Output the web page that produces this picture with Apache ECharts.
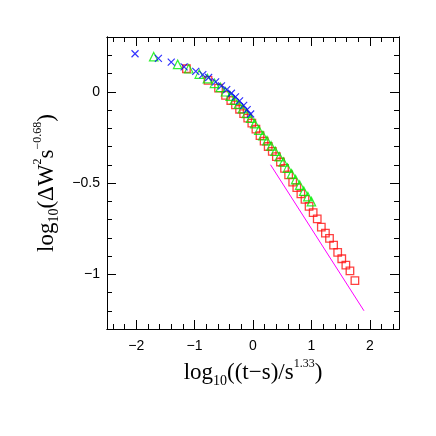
<!DOCTYPE html>
<html>
<head>
<meta charset="utf-8">
<script src="https://cdn.jsdelivr.net/npm/echarts@6/dist/echarts.min.js"></script>
<style>
html,body{margin:0;padding:0;background:#fff;}
#c{width:436px;height:436px;}
</style>
</head>
<body>
<div id="c"></div>
<script>
// Blue crosses
const blueX = [-2.02, -1.62, -1.40, -1.18, -0.98, -0.86, -0.76, -0.64, -0.54, -0.45, -0.37, -0.30, -0.23, -0.16, -0.10, -0.04];
const blueY = [0.208, 0.183, 0.162, 0.136, 0.112, 0.094, 0.078, 0.054, 0.032, 0.012, -0.008, -0.028, -0.050, -0.075, -0.098, -0.122];
// Green triangles
const greenX = [-1.70, -1.29, -1.10, -0.92, -0.78, -0.66, -0.56, -0.47, -0.39, -0.32, -0.25, -0.18, -0.11, -0.04, 0.03, 0.10, 0.17, 0.24, 0.31, 0.38, 0.45, 0.52, 0.59, 0.66, 0.73, 0.80, 0.87, 0.94, 1.00];
const greenY = [0.192, 0.150, 0.126, 0.097, 0.072, 0.046, 0.024, 0.000, -0.024, -0.046, -0.068, -0.092, -0.118, -0.145, -0.175, -0.210, -0.240, -0.268, -0.297, -0.326, -0.356, -0.385, -0.418, -0.450, -0.482, -0.512, -0.545, -0.575, -0.602];
// Red squares
const redX = [-1.14, -0.77, -0.59, -0.47, -0.38, -0.30, -0.23, -0.16, -0.09, -0.02, 0.05, 0.12, 0.19, 0.26, 0.33, 0.40, 0.47, 0.54, 0.61, 0.68, 0.75, 0.82, 0.89, 0.96, 1.03, 1.10, 1.17, 1.24, 1.31, 1.38, 1.45, 1.52, 1.59, 1.66, 1.745];
const redY = [0.126, 0.062, 0.020, -0.020, -0.048, -0.072, -0.096, -0.120, -0.145, -0.172, -0.205, -0.240, -0.270, -0.300, -0.327, -0.355, -0.385, -0.420, -0.455, -0.495, -0.525, -0.560, -0.590, -0.628, -0.662, -0.697, -0.742, -0.775, -0.803, -0.840, -0.880, -0.915, -0.950, -0.982, -1.035];
// Magenta reference line (slope -0.5)
const lineX = [0.3, 1.9];
const lineY = [-0.4, -1.2];

// Tick values
const xMajor = [-2, -1, 0, 1, 2];
const xMinor = [-2.4, -2.2, -1.8, -1.6, -1.4, -1.2, -0.8, -0.6, -0.4, -0.2, 0.2, 0.4, 0.6, 0.8, 1.2, 1.4, 1.6, 1.8, 2.2, 2.4];
const yMajor = [-1, -0.5, 0];
const yMinor = [-1.2, -1.1, -0.9, -0.8, -0.7, -0.6, -0.4, -0.3, -0.2, -0.1, 0.1, 0.2];

function zip(a, b) { return a.map((v, i) => [v, b[i]]); }
function fmt(v) { return String(v).replace('-', '\u2212'); }

const XMIN = -2.5, XMAX = 2.5, YMIN = -1.3, YMAX = 0.3;
const black = '#000';

const richName = {
  n: { fontFamily: 'Liberation Serif', fontSize: 23, color: black, lineHeight: 30, verticalAlign: 'middle' },
  sb: { fontFamily: 'Liberation Serif', fontSize: 14, color: black, lineHeight: 30, verticalAlign: 'bottom' },
  sp: { fontFamily: 'Liberation Serif', fontSize: 12, color: black, lineHeight: 30, verticalAlign: 'top' }
};

function axisDef(dim, pos, ticks, len, main) {
  const isX = dim === 'x';
  const ax = {
    type: 'value', position: pos,
    min: isX ? XMIN : YMIN, max: isX ? XMAX : YMAX,
    axisLine: { show: true, onZero: false, lineStyle: { color: black, width: 1 } },
    axisTick: { show: true, inside: true, length: len, customValues: ticks, lineStyle: { color: black, width: 1 } },
    axisLabel: {
      show: main, margin: isX ? 10 : 7, color: black, fontSize: 14, fontFamily: 'Liberation Sans',
      customValues: ticks, formatter: fmt
    },
    splitLine: { show: false },
    nameLocation: 'middle',
    nameTextStyle: { rich: richName }
  };
  if (main && isX) {
    ax.name = '{n|log}{sb|10}{n|((t\u2212s)/s}{sp|1.33}{n|)}';
    ax.nameGap = 20;
  }
  if (main && !isX) {
    ax.name = '{n|log}{sb|10}{n|(\u0394W}{sp|2}{n|s}{sp|\u22120.68}{n|)}';
    ax.nameGap = 42;
    ax.nameRotate = 90;
  }
  return ax;
}

const chart = echarts.init(document.getElementById('c'), null, { renderer: 'canvas' });
chart.setOption({
  backgroundColor: '#fff',
  animation: false,
  grid: { left: 107, top: 37, width: 292, height: 292, containLabel: false },
  xAxis: [
    axisDef('x', 'bottom', xMajor, 9, true),
    axisDef('x', 'bottom', xMinor, 5, false),
    axisDef('x', 'top', xMajor, 9, false),
    axisDef('x', 'top', xMinor, 5, false)
  ],
  yAxis: [
    axisDef('y', 'left', yMajor, 9, true),
    axisDef('y', 'left', yMinor, 5, false),
    axisDef('y', 'right', yMajor, 9, false),
    axisDef('y', 'right', yMinor, 5, false)
  ],
  series: [
    {
      type: 'line', data: zip(lineX, lineY), showSymbol: false, symbol: 'none',
      lineStyle: { color: '#ff00ff', width: 1 }, z: 1
    },
    {
      type: 'scatter', data: zip(redX, redY), symbol: 'rect', symbolSize: 7.5,
      itemStyle: { color: 'rgba(0,0,0,0)', borderColor: '#ff1010', borderWidth: 1.3 }, z: 2
    },
    {
      type: 'scatter', data: zip(greenX, greenY), symbol: 'triangle', symbolSize: 8.5,
      itemStyle: { color: 'rgba(0,0,0,0)', borderColor: '#00ee00', borderWidth: 1.2 }, z: 3
    },
    {
      type: 'scatter', data: zip(blueX, blueY), symbol: 'path://M0,0L10,10M10,0L0,10', symbolSize: 7,
      itemStyle: { color: 'none', borderColor: '#0000ff', borderWidth: 1.2 }, z: 4
    }
  ]
});
</script>
</body>
</html>
